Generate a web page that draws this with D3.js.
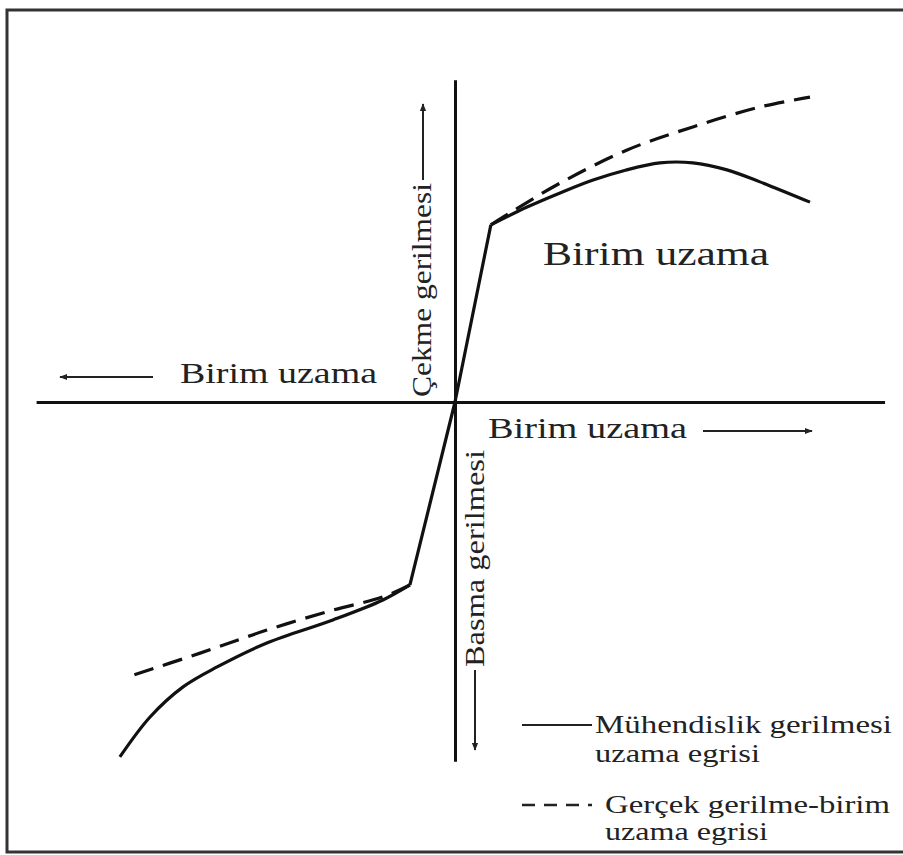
<!DOCTYPE html>
<html>
<head>
<meta charset="utf-8">
<script src="https://cdn.jsdelivr.net/npm/d3@7"></script>
<style>
  body { margin: 0; background: #fff; }
  text { font-family: "Liberation Serif", "DejaVu Serif", serif; fill: #222; }
</style>
</head>
<body>
<div id="chart"></div>
<script>
/* limites des axes (unités arbitraires) */
let strainLimits = [-118, 121],
    stressLimits = [-117, 105];

/* partie élastique (droite commune) */
let elasticStrain = [-12.7, 0, 10.1],
    elasticStress = [-59.6, 0, 57.7];

/* traction : courbe ingénieur / courbe vraie */
let engTensionStrain = [10.1, 20.3, 29.6, 38.9, 48, 57.7, 67.0, 76.6, 85.9, 100],
    engTensionStress = [57.7, 63.5, 68.1, 72.3, 75.5, 77.9, 77.9, 75.6, 71.7, 65.1];
let trueTensionStrain = [10.1, 15.5, 29.6, 48.5, 67.0, 85.9, 100],
    trueTensionStress = [57.7, 61.6, 71.3, 82.1, 89.6, 96.1, 99.3];

/* compression */
let engCompStrain = [-12.7, -20.3, -34.4, -53.0, -67.0, -76.6, -85.9, -94.4],
    engCompStress = [-59.6, -64.5, -71.0, -78.5, -86.3, -92.8, -102.6, -115.6];
let trueCompStrain = [-12.7, -20.3, -34.4, -53.0, -71.8, -92.4],
    trueCompStress = [-59.6, -63.5, -67.8, -74.3, -81.8, -89.6];

let legendLabels = [['Mühendislik gerilmesi', 'uzama egrisi'], ['Gerçek gerilme-birim', 'uzama egrisi']];

let width = 903,
    height = 855;

let svg = d3.select('#chart').
append('svg').
attr('width', width).
attr('height', height);

/* cadre */
svg.append('rect').
attr('x', 7).
attr('y', 10).
attr('width', 910).
attr('height', 842).
attr('fill', 'none').
attr('stroke', '#333').
attr('stroke-width', 3);

let xScale = d3.scaleLinear().domain([0, 100]).range([455, 810]);
let yScale = d3.scaleLinear().domain([0, 100]).range([402, 95]);

/* axes sans graduations */
svg.append('g').
attr('transform', 'translate(0,' + yScale(0) + ')').
call(d3.axisBottom(d3.scaleLinear().domain(strainLimits).range(strainLimits.map(xScale))).ticks(0).tickSizeOuter(0)).
select('.domain').attr('stroke', '#111').attr('stroke-width', 3);

svg.append('g').
attr('transform', 'translate(' + xScale(0) + ',0)').
call(d3.axisLeft(d3.scaleLinear().domain(stressLimits).range(stressLimits.map(yScale))).ticks(0).tickSizeOuter(0)).
select('.domain').attr('stroke', '#111').attr('stroke-width', 3);

/* flèches */
let defs = svg.append('defs');
defs.append('marker').
attr('id', 'head').
attr('viewBox', '0 0 10 10').
attr('refX', 9).attr('refY', 5).
attr('markerWidth', 4).attr('markerHeight', 4).
attr('orient', 'auto').
append('path').attr('d', 'M0,1 L10,5 L0,9 Z').attr('fill', '#222');

let arrow = (x1, y1, x2, y2) => {
  svg.append('line').
  attr('x1', x1).attr('y1', y1).attr('x2', x2).attr('y2', y2).
  attr('stroke', '#222').attr('stroke-width', 2).
  attr('marker-end', 'url(#head)');
};

let line = d3.line().x((d) => xScale(d[0])).y((d) => yScale(d[1]));
let zipped = (xs, ys) => xs.map((x, i) => [x, ys[i]]);

let drawCurve = (xs, ys, curve, dash) => {
  svg.append('path').
  datum(zipped(xs, ys)).
  attr('d', line.curve(curve)).
  attr('fill', 'none').
  attr('stroke', '#111').
  attr('stroke-width', 3.2).
  attr('stroke-linejoin', 'round').
  attr('stroke-dasharray', dash);
};

drawCurve(elasticStrain, elasticStress, d3.curveLinear, null);
drawCurve(engTensionStrain, engTensionStress, d3.curveCatmullRom, null);
drawCurve(trueTensionStrain, trueTensionStress, d3.curveCatmullRom, '20,10');
drawCurve(engCompStrain, engCompStress, d3.curveCatmullRom, null);
drawCurve(trueCompStrain, trueCompStress, d3.curveCatmullRom, '20,10');

/* textes */
let label = (txt, x, y, size, len, rot) => {
  let t = svg.append('text').
  attr('x', x).attr('y', y).
  attr('font-size', size).
  attr('textLength', len).
  attr('lengthAdjust', 'spacingAndGlyphs').
  text(txt);
  if (rot) t.attr('transform', 'rotate(-90,' + x + ',' + y + ')');
};

label('Birim uzama', 543, 265, 34, 226);
label('Birim uzama', 180, 383, 30, 197);
arrow(153, 377, 60, 377);
label('Birim uzama', 488, 438, 30, 199);
arrow(703, 431, 812, 431);

label('Çekme gerilmesi', 431, 397, 28, 214, true);
arrow(423, 180, 423, 104);
label('Basma gerilmesi', 484, 667, 28, 217, true);
arrow(475, 670, 475, 750);

/* légende */
svg.append('line').attr('x1', 522).attr('x2', 592).attr('y1', 725).attr('y2', 725).
attr('stroke', '#222').attr('stroke-width', 2);
svg.append('line').attr('x1', 522).attr('x2', 592).attr('y1', 805).attr('y2', 805).
attr('stroke', '#222').attr('stroke-width', 2.5).attr('stroke-dasharray', '13,9');

label(legendLabels[0][0], 595, 733, 25, 297);
label(legendLabels[0][1], 595, 762, 25, 165);
label(legendLabels[1][0], 605, 813, 25, 285);
label(legendLabels[1][1], 605, 840, 25, 163);
</script>
</body>
</html>
